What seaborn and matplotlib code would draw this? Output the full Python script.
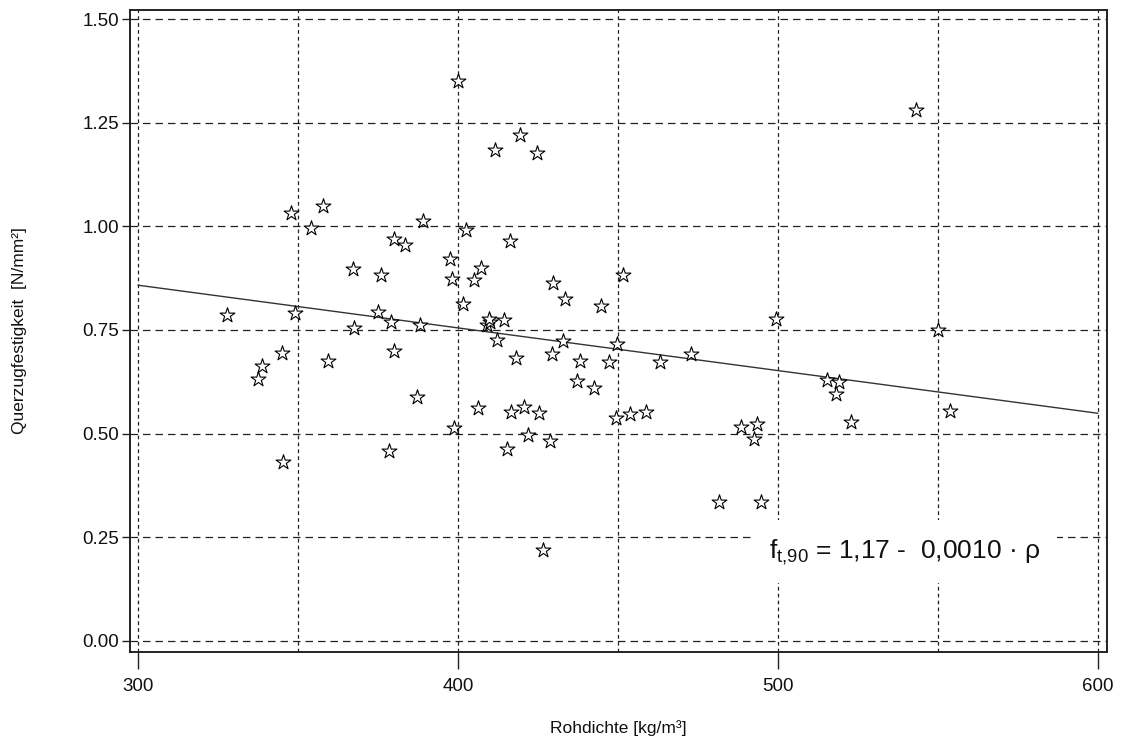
import numpy as np
import pandas as pd
import matplotlib
matplotlib.use("Agg")
import matplotlib.pyplot as plt
import seaborn as sns

# ---- data ----
rohdichte = [400.0, 411.6, 347.7, 357.7, 354.1, 389.2, 402.5, 380.1, 383.3, 367.3,
             376.0, 397.6, 398.2, 407.2, 405.1, 401.6, 327.9, 349.2, 375.1, 379.0,
             367.6, 388.1, 409.0, 410.0, 409.6, 412.3, 344.9, 338.6, 337.6, 359.3,
             380.1, 387.1, 406.1, 398.8, 345.2, 378.4, 419.4, 424.6, 416.3, 429.8,
             433.5, 444.7, 451.7, 414.4, 418.1, 429.3, 432.7, 449.8, 438.1, 447.3,
             463.1, 437.3, 442.5, 416.5, 420.7, 425.4, 449.4, 453.8, 458.8, 422.0,
             428.8, 415.2, 426.5, 543.3, 499.3, 550.1, 472.7, 515.2, 519.1, 518.0,
             553.8, 522.8, 488.3, 493.3, 492.5, 481.7, 494.7]
querzug = [1.350, 1.184, 1.032, 1.049, 0.995, 1.014, 0.992, 0.969, 0.955, 0.898,
           0.882, 0.921, 0.873, 0.899, 0.871, 0.813, 0.785, 0.790, 0.793, 0.769,
           0.754, 0.761, 0.762, 0.770, 0.776, 0.725, 0.694, 0.662, 0.632, 0.675,
           0.699, 0.589, 0.561, 0.513, 0.432, 0.458, 1.221, 1.176, 0.965, 0.863,
           0.824, 0.809, 0.883, 0.773, 0.682, 0.691, 0.724, 0.716, 0.674, 0.672,
           0.672, 0.627, 0.611, 0.553, 0.563, 0.549, 0.538, 0.547, 0.551, 0.497,
           0.482, 0.463, 0.219, 1.281, 0.776, 0.750, 0.692, 0.629, 0.625, 0.595,
           0.555, 0.527, 0.515, 0.523, 0.486, 0.334, 0.336]

# regression line (as drawn in the reference)
line_x = [300, 600]
line_intercept = 1.167
line_slope = -0.00103

x_major = [300, 400, 500, 600]
x_minor = [350, 450, 550]
y_ticks = [0.00, 0.25, 0.50, 0.75, 1.00, 1.25, 1.50]

df = pd.DataFrame({"x": rohdichte, "y": querzug})
line_df = pd.DataFrame({"x": line_x,
                        "y": [line_intercept + line_slope * v for v in line_x]})

sns.set_theme(style="white")
plt.rcParams["font.family"] = ["Liberation Sans", "DejaVu Sans"]
plt.rcParams["mathtext.fontset"] = "custom"
plt.rcParams["mathtext.rm"] = "Liberation Sans"

fig = plt.figure(figsize=(11.26, 7.42), dpi=100)
ax = fig.add_axes([0.1155, 0.1213, 0.8675, 0.8652])

ax.set_xlim(297.5, 602.8)
ax.set_ylim(-0.027, 1.522)

ax.set_xticks(x_major)
ax.set_xticks(x_minor, minor=True)
ax.set_yticks(y_ticks)
ax.set_yticklabels([f"{v:.2f}" for v in y_ticks])

# grid
ax.grid(False)
ax.xaxis.grid(True, which="both", color="#222222", linestyle=(0, (3, 2.5)), linewidth=0.9)
ax.yaxis.grid(True, which="major", color="#222222", linestyle=(0, (6, 4)), linewidth=0.9)
ax.set_axisbelow(True)

sns.lineplot(data=line_df, x="x", y="y", ax=ax, color="#333333", linewidth=1.0, zorder=3)
sns.scatterplot(data=df, x="x", y="y", ax=ax, marker="*", s=125,
                color="white", edgecolor="black", linewidth=0.8, zorder=4)

ax.text(0.793, 0.156, r"f$_{\mathregular{t{,}90}}$ = 1,17 -  0,0010 · ρ",
        transform=ax.transAxes, ha="center", va="center", fontsize=19,
        color="#111111",
        bbox=dict(facecolor="white", edgecolor="none", pad=12), zorder=5)

for sp in ax.spines.values():
    sp.set_visible(True)
    sp.set_color("#222222")
    sp.set_linewidth(1.4)

ax.tick_params(axis="y", which="major", direction="out", length=6, width=1.0,
               color="#222222", labelsize=13.5, labelcolor="#111111", pad=2)
ax.tick_params(axis="x", which="major", direction="out", length=12, width=1.0,
               color="#222222", labelsize=13.5, labelcolor="#111111", pad=7)
ax.tick_params(axis="x", which="minor", length=0)
ax.tick_params(left=True, bottom=True)

ax.set_xlabel("Rohdichte [kg/m³]", fontsize=12.5, color="#111111", labelpad=18)
ax.set_ylabel("Querzugfestigkeit  [N/mm²]", fontsize=12.5, color="#111111", labelpad=40)

fig.savefig("out.png", dpi=100)
